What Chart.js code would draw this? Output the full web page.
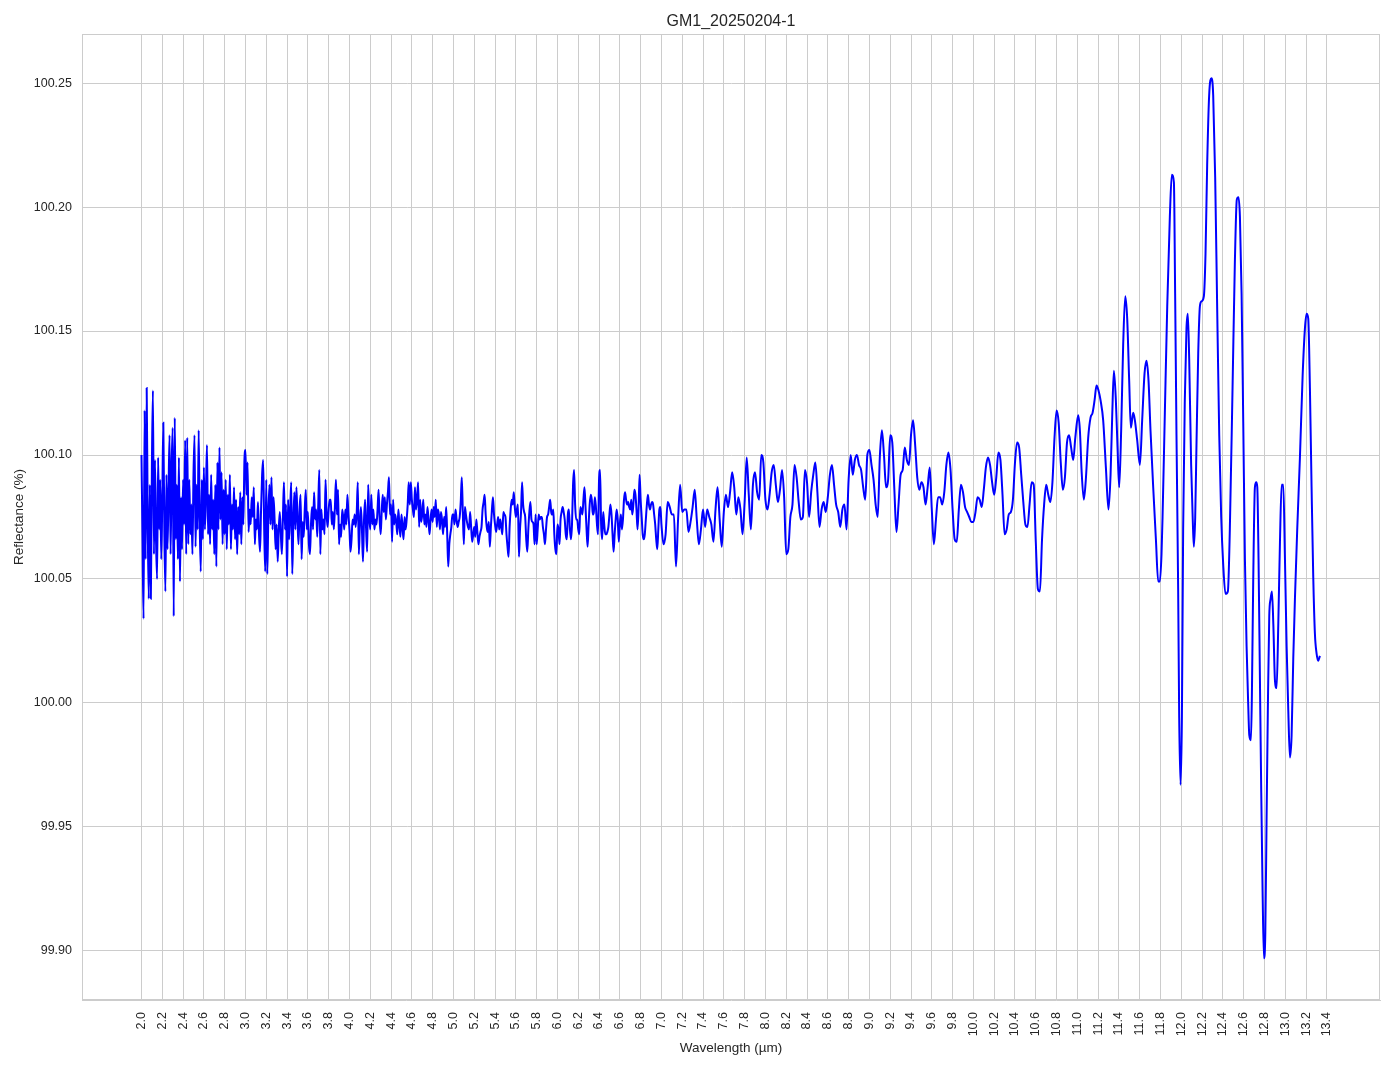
<!DOCTYPE html>
<html><head><meta charset="utf-8">
<script src="https://cdn.jsdelivr.net/npm/chart.js@4.4.1/dist/chart.umd.min.js"></script>
<style>html,body{margin:0;padding:0;background:#fff;}canvas{display:block;}</style>
</head><body>
<canvas id="c" width="1394" height="1069"></canvas>
<script>
// ---- DATA ----
const chartTitle = 'GM1_20250204-1';
const xLabel = 'Wavelength (µm)';
const yLabel = 'Reflectance (%)';
const xTickLabels = ['2.0','2.2','2.4','2.6','2.8','3.0','3.2','3.4','3.6','3.8','4.0','4.2','4.4','4.6','4.8','5.0','5.2','5.4','5.6','5.8','6.0','6.2','6.4','6.6','6.8','7.0','7.2','7.4','7.6','7.8','8.0','8.2','8.4','8.6','8.8','9.0','9.2','9.4','9.6','9.8','10.0','10.2','10.4','10.6','10.8','11.0','11.2','11.4','11.6','11.8','12.0','12.2','12.4','12.6','12.8','13.0','13.2','13.4'];
const yTickLabels = ['99.90','99.95','100.00','100.05','100.10','100.15','100.20','100.25'];

// wavelength 2.00 .. 2.99 µm, every 0.01 µm
const wlStartA = 2.00, wlStepA = 0.01;
const reflA = [
100.100,100.066,100.034,100.118,100.058,100.127,100.072,100.042,100.088,100.042,
100.095,100.126,100.060,100.098,100.065,100.050,100.099,100.070,100.090,100.058,
100.082,100.113,100.068,100.045,100.092,100.062,100.085,100.108,100.060,100.095,
100.111,100.035,100.115,100.066,100.088,100.058,100.099,100.049,100.083,100.062,
100.090,100.072,100.106,100.060,100.107,100.064,100.090,100.068,100.080,100.060,
100.092,100.108,100.063,100.088,100.070,100.110,100.072,100.053,100.090,100.066,
100.095,100.070,100.085,100.104,100.068,100.084,100.064,100.092,100.070,100.082,
100.060,100.088,100.055,100.097,100.070,100.103,100.074,100.093,100.064,100.086,
100.068,100.090,100.062,100.084,100.072,100.092,100.062,100.080,100.070,100.087,
100.066,100.082,100.060,100.079,100.068,100.085,100.064,100.083,100.072,100.098];

// wavelength 3.00 .. 4.99 µm, every 0.01 µm
const wlStartB = 3.00, wlStepB = 0.01;
const reflB = [
100.102,100.084,100.097,100.069,100.078,100.072,100.083,100.075,100.087,100.064,
100.074,100.070,100.081,100.068,100.061,100.078,100.092,100.098,100.070,100.053,
100.090,100.052,100.076,100.088,100.072,100.091,100.070,100.083,100.074,100.062,
100.072,100.057,100.070,100.077,100.068,100.060,100.075,100.089,100.070,100.080,
100.051,100.082,100.066,100.078,100.089,100.052,100.072,100.085,100.070,100.087,
100.074,100.064,100.078,100.084,100.058,100.073,100.067,100.078,100.086,100.070,
100.077,100.064,100.060,100.072,100.079,100.070,100.085,100.074,100.078,100.067,
100.080,100.094,100.060,100.078,100.070,100.074,100.068,100.090,100.076,100.071,
100.078,100.082,100.082,100.072,100.077,100.070,100.079,100.090,100.076,100.086,
100.064,100.072,100.067,100.078,100.075,100.070,100.078,100.072,100.084,100.076,
100.070,100.061,100.066,100.074,100.072,100.076,100.071,100.077,100.089,100.060,
100.072,100.079,100.070,100.057,100.074,100.082,100.070,100.061,100.088,100.075,
100.070,100.084,100.072,100.078,100.070,100.074,100.072,100.078,100.086,100.074,
100.068,100.077,100.084,100.077,100.083,100.074,100.080,100.085,100.091,100.076,
100.080,100.065,100.082,100.072,100.076,100.073,100.068,100.078,100.072,100.067,
100.076,100.071,100.066,100.075,100.070,100.074,100.080,100.089,100.080,100.089,
100.082,100.078,100.075,100.087,100.078,100.082,100.089,100.071,100.082,100.073,
100.076,100.082,100.072,100.076,100.071,100.079,100.074,100.068,100.074,100.078,
100.073,100.079,100.075,100.082,100.071,100.078,100.076,100.070,100.077,100.074,
100.068,100.075,100.071,100.079,100.068,100.055,100.064,100.068,100.071,100.076];

// wavelength 5.00 .. 5.99 µm, every 0.01 µm
const wlStartC = 5.00, wlStepC = 0.01;
const reflC = [
100.076,100.072,100.078,100.074,100.071,100.073,100.075,100.081,100.091,100.077,
100.064,100.079,100.076,100.073,100.071,100.070,100.077,100.071,100.065,100.068,
100.071,100.067,100.074,100.069,100.064,100.067,100.069,100.071,100.078,100.081,
100.084,100.076,100.071,100.069,100.073,100.063,100.071,100.078,100.083,100.076,
100.072,100.069,100.072,100.075,100.070,100.074,100.071,100.068,100.077,100.076,
100.075,100.068,100.063,100.059,100.071,100.078,100.082,100.080,100.085,100.079,
100.075,100.078,100.080,100.059,100.070,100.077,100.089,100.080,100.077,100.075,
100.066,100.061,100.070,100.077,100.081,100.074,100.073,100.072,100.064,100.076,
100.064,100.070,100.076,100.074,100.075,100.075,100.071,100.068,100.064,100.070,
100.075,100.076,100.079,100.082,100.077,100.076,100.078,100.068,100.062,100.060];

// wavelength 6.00 .. 6.99 µm, every 0.01 µm
const wlStartD = 6.00, wlStepD = 0.01;
const reflD = [
100.072,100.070,100.064,100.074,100.077,100.079,100.077,100.074,100.068,100.066,
100.076,100.078,100.070,100.066,100.072,100.088,100.094,100.080,100.074,100.074,
100.070,100.068,100.079,100.078,100.076,100.082,100.087,100.079,100.070,100.063,
100.072,100.080,100.084,100.082,100.076,100.077,100.083,100.079,100.072,100.068,
100.090,100.094,100.072,100.066,100.077,100.072,100.068,100.068,100.069,100.071,
100.076,100.080,100.076,100.068,100.061,100.068,100.074,100.078,100.074,100.065,
100.072,100.076,100.070,100.074,100.082,100.085,100.082,100.080,100.081,100.079,
100.078,100.082,100.076,100.080,100.086,100.084,100.078,100.070,100.078,100.092,
100.082,100.075,100.068,100.066,100.068,100.074,100.080,100.084,100.080,100.078,
100.080,100.081,100.080,100.076,100.072,100.066,100.062,100.070,100.078,100.079];

// wavelength 7.00 .. 10.98 µm, every 0.02 µm
const wlStartE = 7.00, wlStepE = 0.02;
const reflE = [
100.072,100.064,100.068,100.081,100.079,100.076,100.076,100.055,100.074,100.088,
100.077,100.078,100.078,100.069,100.073,100.079,100.086,100.074,100.064,100.070,
100.078,100.071,100.078,100.075,100.072,100.065,100.078,100.087,100.074,100.063,
100.077,100.084,100.079,100.085,100.093,100.087,100.076,100.083,100.078,100.068,
100.081,100.099,100.084,100.070,100.088,100.093,100.085,100.082,100.100,100.097,
100.082,100.078,100.084,100.093,100.096,100.088,100.081,100.086,100.094,100.083,
100.060,100.062,100.075,100.080,100.096,100.091,100.081,100.074,100.075,100.094,
100.089,100.075,100.085,100.092,100.097,100.085,100.071,100.078,100.081,100.077,
100.083,100.092,100.096,100.088,100.080,100.077,100.071,100.078,100.080,100.070,
100.090,100.100,100.092,100.098,100.100,100.096,100.094,100.087,100.082,100.100,
100.102,100.096,100.090,100.080,100.075,100.099,100.110,100.100,100.087,100.090,
100.108,100.105,100.086,100.069,100.080,100.092,100.094,100.103,100.098,100.096,
100.108,100.114,100.104,100.091,100.086,100.089,100.087,100.080,100.087,100.095,
100.078,100.064,100.074,100.083,100.083,100.080,100.085,100.096,100.101,100.094,
100.078,100.066,100.065,100.078,100.088,100.085,100.079,100.077,100.075,100.073,
100.073,100.077,100.083,100.082,100.079,100.086,100.095,100.099,100.096,100.089,
100.084,100.091,100.101,100.098,100.084,100.068,100.070,100.076,100.077,100.082,
100.097,100.105,100.103,100.092,100.081,100.072,100.071,100.080,100.089,100.088,
100.065,100.046,100.045,100.066,100.080,100.088,100.084,100.081,100.089,100.107,
100.118,100.113,100.097,100.086,100.091,100.105,100.108,100.103,100.098,100.107];

// wavelength 11.0 .. 13.34 µm (read point by point)
const wlF = [
11.008,11.024,11.040,11.062,11.081,11.104,11.126,11.146,11.165,11.184,
11.203,11.223,11.248,11.274,11.299,11.319,11.335,11.351,11.370,11.386,
11.402,11.421,11.440,11.460,11.479,11.498,11.514,11.537,11.553,11.575,
11.601,11.623,11.646,11.665,11.684,11.703,11.729,11.755,11.777,11.793,
11.809,11.819,11.841,11.864,11.889,11.908,11.928,11.940,11.953,11.969,
11.979,11.992,12.005,12.017,12.033,12.049,12.062,12.075,12.094,12.110,
12.120,12.133,12.146,12.162,12.178,12.194,12.216,12.232,12.248,12.267,
12.290,12.306,12.325,12.344,12.364,12.383,12.402,12.424,12.447,12.466,
12.492,12.514,12.533,12.549,12.563,12.579,12.595,12.611,12.627,12.643,
12.653,12.669,12.678,12.691,12.707,12.720,12.730,12.742,12.755,12.768,
12.781,12.794,12.807,12.819,12.832,12.845,12.858,12.871,12.884,12.900,
12.916,12.932,12.948,12.964,12.980,12.996,13.012,13.028,13.044,13.060,
13.076,13.092,13.114,13.140,13.166,13.188,13.204,13.220,13.236,13.252,
13.268,13.284,13.300,13.316,13.332];
const reflF = [
100.116,100.110,100.094,100.082,100.090,100.107,100.115,100.117,100.122,100.128,
100.126,100.122,100.114,100.095,100.078,100.092,100.116,100.134,100.122,100.103,
100.087,100.110,100.144,100.164,100.155,100.130,100.111,100.117,100.114,100.106,
100.096,100.114,100.133,100.138,100.130,100.110,100.087,100.066,100.049,100.049,
100.060,100.075,100.117,100.160,100.196,100.213,100.210,100.165,100.108,100.046,
99.994,99.967,99.994,100.070,100.122,100.151,100.157,100.139,100.096,100.073,
100.063,100.075,100.106,100.141,100.160,100.162,100.164,100.181,100.217,100.245,
100.252,100.245,100.212,100.160,100.108,100.075,100.056,100.044,100.045,100.070,
100.127,100.177,100.203,100.204,100.196,100.165,100.113,100.058,100.023,99.999,
99.987,99.985,100.003,100.050,100.087,100.089,100.087,100.058,100.011,99.964,
99.924,99.897,99.907,99.952,99.999,100.035,100.042,100.045,100.032,100.009,
100.006,100.032,100.065,100.088,100.088,100.058,100.023,99.997,99.978,99.987,
100.018,100.042,100.070,100.099,100.132,100.151,100.157,100.155,100.127,100.087,
100.051,100.028,100.020,100.017,100.019];

// ---- BUILD POINTS ----
function gridPoints(start, step, vals){
  return vals.map((v,i)=>({x: Math.round((start + i*step)*1000)/1000, y: v}));
}
const points = [].concat(
  gridPoints(wlStartA, wlStepA, reflA),
  gridPoints(wlStartB, wlStepB, reflB),
  gridPoints(wlStartC, wlStepC, reflC),
  gridPoints(wlStartD, wlStepD, reflD),
  gridPoints(wlStartE, wlStepE, reflE),
  wlF.map((x,i)=>({x:x, y:reflF[i]}))
);

const FONT = "'Liberation Sans', Arial, 'DejaVu Sans', sans-serif";
const TXT = '#262626';
const GRID = '#cccccc';

const frame = {
  id: 'frame',
  beforeDatasetsDraw(chart){
    const a = chart.chartArea, ctx = chart.ctx;
    ctx.save();
    ctx.strokeStyle = GRID; ctx.lineWidth = 1;
    ctx.strokeRect(Math.round(a.left)+0.5, Math.round(a.top)+0.5, Math.round(a.right-a.left)-1, Math.round(a.bottom-a.top)-1);
    ctx.restore();
  }
};

new Chart(document.getElementById('c'), {
  type: 'line',
  data: { datasets: [{
    data: points,
    borderColor: '#0000ff',
    borderWidth: 2,
    pointRadius: 0,
    fill: false,
    cubicInterpolationMode: 'monotone'
  }]},
  plugins: [frame],
  options: {
    responsive: false,
    animation: false,
    parsing: false,
    layout: { padding: { left: 0, right: 14, top: 0, bottom: 0 } },
    plugins: {
      legend: { display: false },
      tooltip: { enabled: false },
      title: {
        display: true, text: chartTitle, fullSize: false, color: TXT,
        font: { family: FONT, size: 16, weight: 'normal', lineHeight: 1.2 },
        padding: { top: 11.5, bottom: 3.3 }
      }
    },
    scales: {
      x: {
        type: 'linear', min: 1.428, max: 13.91,
        afterBuildTicks(scale){ scale.ticks = xTickLabels.map(s => ({ value: parseFloat(s) })); },
        afterFit(scale){ scale.height = 69; },
        ticks: {
          autoSkip: false, minRotation: 90, maxRotation: 90, padding: 12, color: TXT,
          font: { family: FONT, size: 12.5 },
          callback(v){ return Number(v).toFixed(1); }
        },
        grid: { color: GRID, lineWidth: 1, drawTicks: false },
        border: { display: true, color: GRID, width: 1 },
        title: { display: true, text: xLabel, color: TXT, font: { family: FONT, size: 13.5 }, padding: { top: 0, bottom: 13 } }
      },
      y: {
        type: 'linear', min: 99.8802, max: 100.2698,
        afterBuildTicks(scale){ scale.ticks = yTickLabels.map(s => ({ value: parseFloat(s) })); },
        afterFit(scale){ scale.width = 82; },
        ticks: {
          padding: 10, color: TXT, font: { family: FONT, size: 12.5 },
          callback(v){ return Number(v).toFixed(2); }
        },
        grid: { color: GRID, lineWidth: 1, drawTicks: false },
        border: { display: true, color: GRID, width: 1 },
        title: { display: true, text: yLabel, color: TXT, font: { family: FONT, size: 13.5 }, padding: { top: 11, bottom: 0 } }
      }
    }
  }
});
</script>
</body></html>
